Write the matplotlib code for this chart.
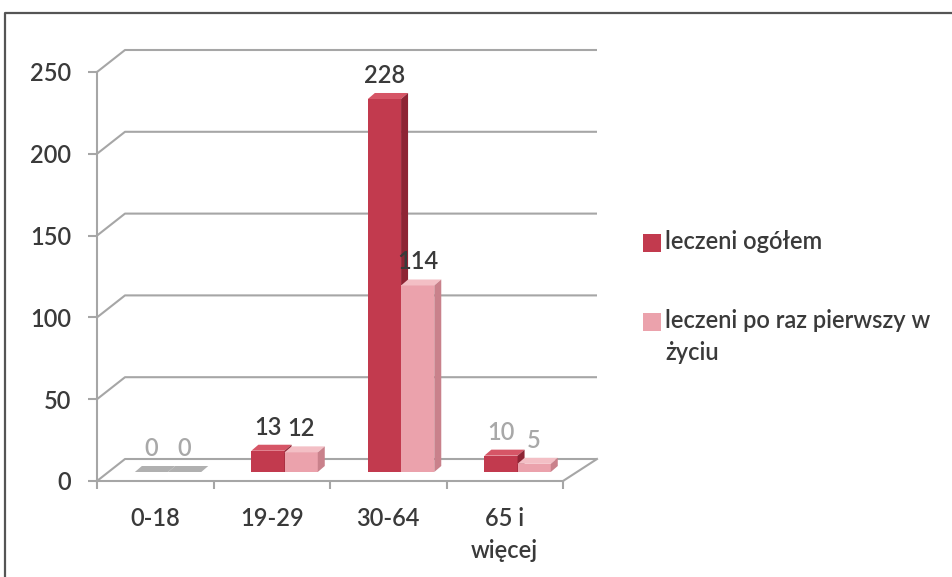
import matplotlib
matplotlib.use('Agg')
import matplotlib.pyplot as plt
import matplotlib.transforms as mtransforms
from matplotlib.patches import Polygon, Rectangle
from matplotlib.lines import Line2D

# ---------------- data ----------------
categories = ['0-18', '19-29', '30-64', '65 i\nwięcej']
series_names = ['leczeni ogółem', 'leczeni po raz pierwszy w\nżyciu']
leczeni_ogolem = [0, 13, 228, 10]
leczeni_pierwszy = [0, 12, 114, 5]
y_ticks = [0, 50, 100, 150, 200, 250]

# ---------------- style ----------------
plt.rcParams['font.family'] = ['Lato', 'DejaVu Sans']
plt.rcParams['font.weight'] = 'semibold'
W, H, DPI = 952, 577, 100
TXT = '#3A3A3A'
GRID = '#A6A6A6'
front_cols = ['#C23A4E', '#EBA2AC']
top_cols = ['#D65566', '#F3BFC5']
side_cols = ['#8E2434', '#C9818B']
label_cols = [['#A8A8A8', TXT, TXT, '#A8A8A8'],
              ['#A8A8A8', TXT, TXT, '#A8A8A8']]

fig = plt.figure(figsize=(W / DPI, H / DPI), dpi=DPI)

# front plane of the plot in pixels
x0px, x1px = 97, 563
ybot, ytop = 481, 72
ax = fig.add_axes([x0px / W, 1 - ybot / H, (x1px - x0px) / W, (ybot - ytop) / H])
ax.set_xlim(0, len(categories))
ax.set_ylim(0, 250)
ax.patch.set_alpha(0)
ppx = (x1px - x0px) / len(categories)
ppy = (ybot - ytop) / 250.0

# back wall offset (depth) in data units
bdx = 28 / ppx
bdy = 22 / ppy
xr = (597 - x0px) / ppx

# back-wall gridlines with diagonals
for v in y_ticks:
    ax.plot([0, bdx, xr], [v, v + bdy, v + bdy], color=GRID, lw=1.5,
            clip_on=False, zorder=1, solid_capstyle='butt')
# floor right edge
ax.plot([len(categories), xr], [0, bdy], color=GRID, lw=1.5, clip_on=False, zorder=1)

# bars (pseudo 3D)
bar_tr = ax.transData + mtransforms.ScaledTranslation(0, 9 / DPI, fig.dpi_scale_trans)
bw = 0.285
fdx = 7 / ppx
fdy = 6 / ppy
offsets = [-0.175, -0.175 + bw]
series = [leczeni_ogolem, leczeni_pierwszy]
for s, vals in enumerate(series):
    lefts = [i + 0.5 + offsets[s] for i in range(len(categories))]
    ax.bar(lefts, vals, width=bw, align='edge', color=front_cols[s],
           transform=bar_tr, clip_on=False, zorder=3 + s, linewidth=0)
    for i, (xl, v) in enumerate(zip(lefts, vals)):
        tc = top_cols[s] if v > 0 else '#B0B0B0'
        top = Polygon([(xl, v), (xl + bw, v), (xl + bw + fdx, v + fdy), (xl + fdx, v + fdy)],
                      closed=True, facecolor=tc, edgecolor='none',
                      transform=bar_tr, clip_on=False, zorder=3.1 + s)
        side = Polygon([(xl + bw, 0), (xl + bw + fdx, fdy), (xl + bw + fdx, v + fdy), (xl + bw, v)],
                       closed=True, facecolor=side_cols[s] if v > 0 else '#B0B0B0',
                       edgecolor='none', transform=bar_tr, clip_on=False, zorder=3.1 + s)
        ax.add_patch(top)
        ax.add_patch(side)
        ax.annotate(str(v), xy=(xl + bw / 2, v), xycoords=bar_tr,
                    xytext=(0, 17), textcoords='offset points',
                    ha='center', va='center', fontsize=17,
                    color=label_cols[s][i], zorder=6)

# axes / ticks
for sp in ['top', 'right']:
    ax.spines[sp].set_visible(False)
for sp in ['left', 'bottom']:
    ax.spines[sp].set_color(GRID)
    ax.spines[sp].set_linewidth(1.5)
    ax.spines[sp].set_zorder(2)
ax.set_yticks(y_ticks)
ax.set_yticklabels([str(t) for t in y_ticks])
ax.tick_params(axis='y', length=6.5, width=1.5, color=GRID, labelsize=17,
               labelcolor=TXT, pad=12)
ax.set_xticks(range(len(categories) + 1))
ax.set_xticklabels([])
ax.tick_params(axis='x', which='major', length=6, width=1.5, color=GRID)
ax.set_xticks([i + 0.5 for i in range(len(categories))], minor=True)
ax.set_xticklabels(categories, minor=True)
ax.tick_params(axis='x', which='minor', length=0, labelsize=17, labelcolor=TXT, pad=19)
for lab in ax.get_xticklabels(minor=True):
    lab.set_linespacing(1.45)

# legend (manual)
leg_y = [243, 322]
for s, name in enumerate(series_names):
    fig.add_artist(Rectangle((643 / W, 1 - (leg_y[s] + 9) / H), 18 / W, 18 / H,
                             transform=fig.transFigure, facecolor=front_cols[s],
                             edgecolor='none'))
    fig.text(665 / W, 1 - (leg_y[s] - 13) / H, name, ha='left', va='top',
             fontsize=17, color=TXT, linespacing=1.45)

# outer frame
fig.add_artist(Line2D([5 / W, 5 / W, 1.0], [0.0, 1 - 13 / H, 1 - 13 / H],
                      transform=fig.transFigure, color='#555555', lw=1.6))

fig.savefig('out.png', dpi=DPI)
